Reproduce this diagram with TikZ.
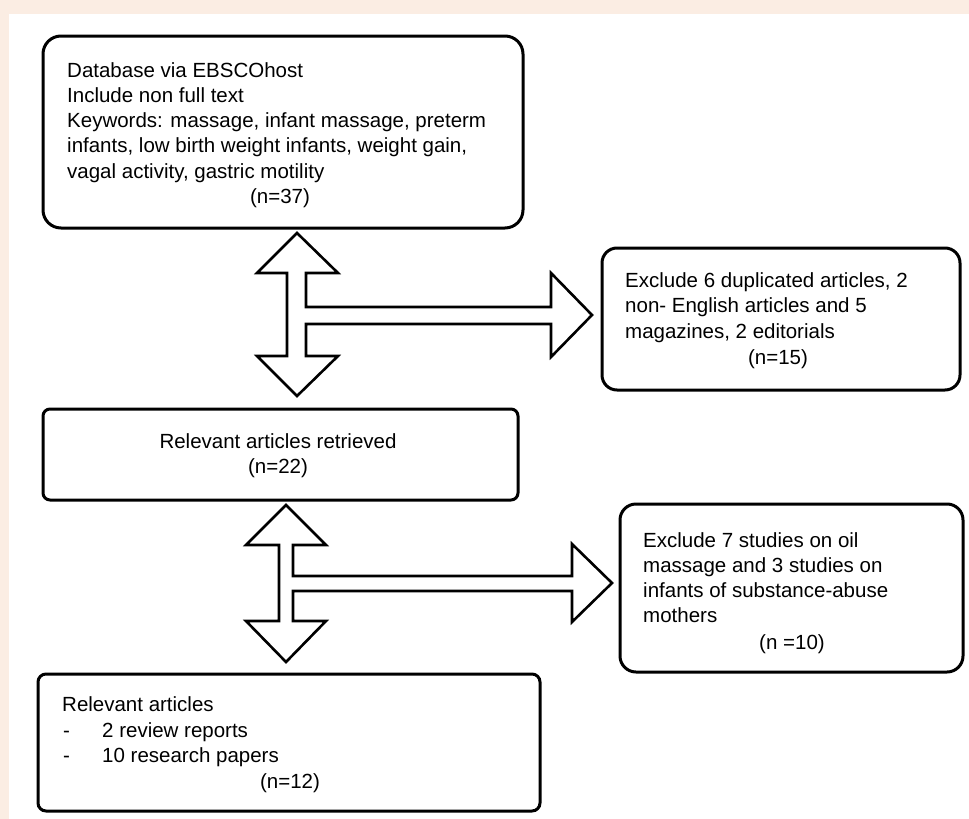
\documentclass[tikz,border=0pt]{standalone}
\usepackage{fontspec}
\setmainfont{Liberation Sans}
\definecolor{peach}{HTML}{FBEDE3}
\begin{document}
\begin{tikzpicture}[x=1pt,y=-1pt,
  box/.style={draw=black, line width=3pt, fill=white, rectangle, inner sep=0pt},
  txt/.style={inner sep=0pt, font=\fontsize{20.5}{25}\selectfont, text=black},
  blockarrow/.style={draw=black, line width=2.6pt, fill=white, line join=miter}]
\fill[peach] (0,0) rectangle (969,819);
\fill[white] (9,14) rectangle (969,819);
\useasboundingbox (0,0) rectangle (969,819);

% boxes
\node[box, rounded corners=18pt, minimum width=480pt, minimum height=192pt] (b1) at (283,132) {};
\node[box, rounded corners=15pt, minimum width=358pt, minimum height=142pt] (b2) at (781,319) {};
\node[box, rounded corners=7pt, minimum width=475pt, minimum height=91pt] (b3) at (280.5,454.5) {};
\node[box, rounded corners=16pt, minimum width=343pt, minimum height=168pt] (b4) at (791.5,588) {};
\node[box, rounded corners=8pt, minimum width=502pt, minimum height=137pt] (b5) at (289,742.5) {};

% box 1 text
\node[txt, anchor=base west] (t11) at (67,77) {Database via EBSCOhost};
\node[txt, anchor=base west] (t12) at (67,102) {Include non full text};
\node[txt, anchor=base west] (t13) at (67,127) {Keywords: massage, infant massage, preterm};
\node[txt, anchor=base west] (t14) at (67,152) {infants, low birth weight infants, weight gain,};
\node[txt, anchor=base west] (t15) at (67,178) {vagal activity, gastric motility};
\node[txt, anchor=base] (t16) at (280,203) {(n=37)};

% box 2 text
\node[txt, anchor=base west] (t21) at (625,287) {Exclude 6 duplicated articles, 2};
\node[txt, anchor=base west] (t22) at (625,312) {non- English articles and 5};
\node[txt, anchor=base west] (t23) at (625,338) {magazines, 2 editorials};
\node[txt, anchor=base] (t24) at (778,364) {(n=15)};

% box 3 text
\node[txt, anchor=base] (t31) at (278,448) {Relevant articles retrieved};
\node[txt, anchor=base] (t32) at (278,473) {(n=22)};

% box 4 text
\node[txt, anchor=base west] (t41) at (643,547) {Exclude 7 studies on oil};
\node[txt, anchor=base west] (t42) at (643,572) {massage and 3 studies on};
\node[txt, anchor=base west] (t43) at (643,597) {infants of substance-abuse};
\node[txt, anchor=base west] (t44) at (643,622) {mothers};
\node[txt, anchor=base] (t45) at (792,649) {(n =10)};

% box 5 text
\node[txt, anchor=base west] (t51) at (62,711) {Relevant articles};
\node[txt, anchor=base west] (t52) at (63,737) {-};
\node[txt, anchor=base west] (t53) at (102,737) {2 review reports};
\node[txt, anchor=base west] (t54) at (63,762) {-};
\node[txt, anchor=base west] (t55) at (102,762) {10 research papers};
\node[txt, anchor=base] (t56) at (290,788) {(n=12)};

% block arrows
\draw[blockarrow] (297,233) -- (338,273) -- (306,273) -- (306,307) -- (551,307) -- (551,273)
  -- (592,315) -- (551,357) -- (551,324) -- (306,324) -- (306,356) -- (338,356) -- (297,396)
  -- (257,356) -- (287,356) -- (287,273) -- (257,273) -- cycle;
\draw[blockarrow] (286,505) -- (326,545) -- (293,545) -- (293,576) -- (572,576) -- (572,544)
  -- (612,583) -- (572,622) -- (572,591) -- (293,591) -- (293,621) -- (326,621) -- (286,662)
  -- (246,621) -- (279,621) -- (279,545) -- (246,545) -- cycle;
\end{tikzpicture}
\end{document}
